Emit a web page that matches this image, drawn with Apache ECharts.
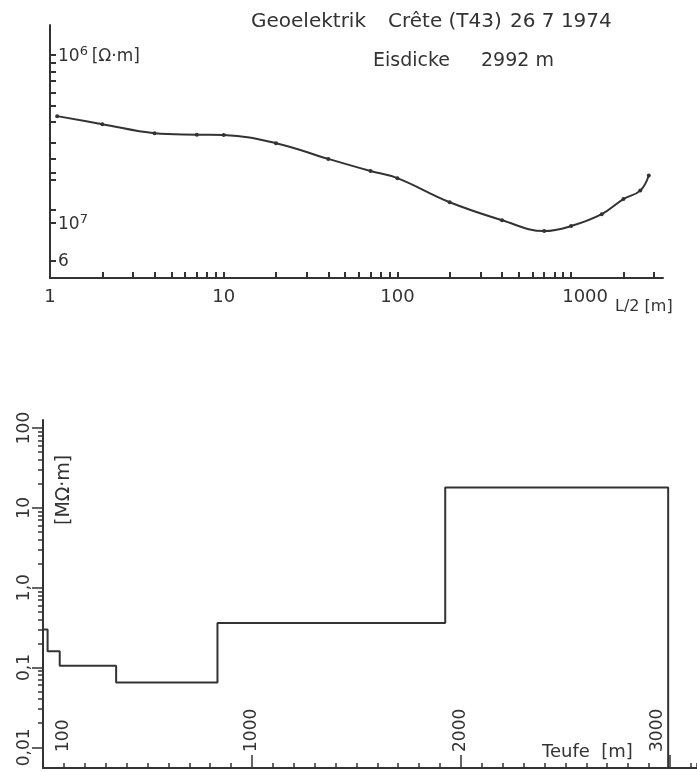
<!DOCTYPE html>
<html>
<head>
<meta charset="utf-8">
<script src="https://cdn.jsdelivr.net/npm/echarts@6/dist/echarts.min.js"></script>
<style>
  html, body { margin: 0; padding: 0; background: #fff; }
  #main { width: 697px; height: 772px; }
</style>
</head>
<body>
<div id="main"></div>
<script>
// sounding curve: half electrode spacing L/2 [m] and apparent resistivity [Ohm m]
var spacing = [1.1, 2, 4, 7, 10, 20, 40, 70, 100, 200, 400, 700, 1000, 1500, 2000, 2500, 2800];
var rhoApp = [4.33e7, 3.88e7, 3.43e7, 3.36e7, 3.34e7, 2.99e7, 2.41e7, 2.04e7, 1.85e7, 1.33e7,
  1.04e7, 8.96e6, 9.6e6, 1.13e7, 1.39e7, 1.56e7, 1.92e7];

// layer model: top of each layer [m] and resistivity [MOhm m]
var layerTop = [0, 22, 80, 350, 835, 1925];
var layerRho = [0.3, 0.16, 0.105, 0.065, 0.36, 18];
var iceThickness = 2992;

// tick labels
var spacingLabels = [1, 10, 100, 1000];
var spacingTexts = ["1", "10", "100", "{r|1000}"];
var rhoLabelValues = [6e6, 1e7, 1e8];
var rhoLabelTexts = ["{n|6}", "{n|10}{s|7}", "{n|10}{s|6} {n|[Ω·m]}"];
var depthLabels = [100, 1000, 2000, 3000];
var depthTexts = ["100", "1000", "2000", "{r|3000}"];
var layerLabelValues = [0.01, 0.1, 1, 10, 100];
var layerLabelTexts = ["0,01", "0,1", "1,0", "10", "100"];

void (function() {
  var chart = echarts.init(document.getElementById("main"));
  var ink = "#333";
  var font = "DejaVu Sans";

  var logTicks = function(lo, hi) {
    var res = [];
    for (var d = lo; d < hi; d *= 10) {
      for (var k = 1; k < 10; k++) res.push(d * k);
    }
    res.push(hi);
    return res;
  };
  var decades = function(lo, hi) {
    var res = [];
    for (var d = lo; d <= hi * 1.0001; d *= 10) res.push(d);
    return res;
  };
  var pick = function(values, texts) {
    return function(v) {
      for (var i = 0; i < values.length; i++) {
        if (Math.abs(v / values[i] - 1) < 1e-6) return texts[i];
      }
      return "";
    };
  };
  var label = function(text, left, top, size) {
    return { text: text, left: left, top: top,
      textStyle: { fontSize: size, fontWeight: "normal", color: ink, fontFamily: font } };
  };

  var curve = spacing.map(function(l, i) { return [l, rhoApp[i]]; });
  var yMinB = 0.0055;
  var steps = layerTop.map(function(t, i) { return [t, layerRho[i]]; });
  steps.push([iceThickness, yMinB]);

  var option = {
    backgroundColor: "#fff",
    animation: false,
    textStyle: { fontFamily: font, color: ink },
    title: [
      label("Geoelektrik", 246, 7, 20),
      label("Crête (T43)", 383, 7, 20),
      label("26 7 1974", 505, 7, 20),
      label("Eisdicke", 368, 47, 19),
      label("2992 m", 476, 47, 19),
      label("L/2 [m]", 610, 294, 16),
      label("Teufe  [m]", 537, 738, 18)
    ],
    graphic: [
      { type: "text", x: 55, y: 525, rotation: Math.PI / 2,
        style: { text: "[MΩ·m]", fontSize: 19, fontFamily: font, fill: ink } }
    ],
    grid: [
      { left: 50, top: 25, right: 34, bottom: 494, outerBoundsMode: "none" },
      { left: 43, top: 420, right: 0, bottom: 4, outerBoundsMode: "none" }
    ],
    xAxis: [
      {
        type: "log", gridIndex: 0, min: 1, max: 3380,
        axisLine: { lineStyle: { color: ink, width: 2 } },
        axisTick: { inside: true, length: 6, lineStyle: { color: ink, width: 2 },
          customValues: logTicks(1, 1000).concat([2000, 3000]) },
        axisLabel: { customValues: spacingLabels, fontSize: 18, color: ink, margin: 10,
          formatter: pick(spacingLabels, spacingTexts),
          rich: { r: { fontSize: 18, color: ink, fontFamily: font, padding: [0, 0, 0, 28] } } },
        splitLine: { show: false }
      },
      {
        type: "value", gridIndex: 1, min: 0, max: 3130, interval: 100, position: "bottom",
        axisLine: { lineStyle: { color: ink, width: 2 } },
        axisTick: { inside: true, length: 5, lineStyle: { color: ink, width: 1.5 } },
        axisLabel: { customValues: depthLabels, inside: true, rotate: 90, fontSize: 17,
          color: ink, margin: 16, verticalAlign: "middle",
          formatter: pick(depthLabels, depthTexts),
          rich: { r: { fontSize: 17, color: ink, fontFamily: font, padding: [0, 0, 24, 0] } } },
        splitLine: { show: false }
      },
      {
        type: "value", gridIndex: 1, min: 0, max: 3130, position: "bottom",
        axisLine: { show: false },
        axisTick: { inside: true, length: 13, lineStyle: { color: ink, width: 1.5 },
          customValues: [1000, 2000, 3000] },
        axisLabel: { show: false },
        splitLine: { show: false }
      }
    ],
    yAxis: [
      {
        type: "log", gridIndex: 0, min: 4.71e6, max: 1.51e8,
        axisLine: { lineStyle: { color: ink, width: 2 } },
        axisTick: { inside: true, length: 6, lineStyle: { color: ink, width: 2 },
          customValues: logTicks(6e6, 1e7).slice(0, 4).concat(logTicks(1e7, 1e8)) },
        axisLabel: {
          customValues: rhoLabelValues, inside: true, margin: 8, color: ink,
          formatter: pick(rhoLabelValues, rhoLabelTexts),
          rich: {
            n: { fontSize: 17, color: ink, fontFamily: font, lineHeight: 20, verticalAlign: "bottom" },
            s: { fontSize: 13, color: ink, fontFamily: font, lineHeight: 20, verticalAlign: "top" }
          }
        },
        splitLine: { show: false }
      },
      {
        type: "log", gridIndex: 1, min: yMinB, max: 126, position: "left",
        axisLine: { lineStyle: { color: ink, width: 2 } },
        axisTick: { length: 5, lineStyle: { color: ink, width: 1.5 },
          customValues: logTicks(0.01, 100) },
        axisLabel: { show: false },
        splitLine: { show: false }
      },
      {
        type: "log", gridIndex: 1, min: yMinB, max: 126, position: "left",
        axisLine: { show: false },
        axisTick: { length: 11, lineStyle: { color: ink, width: 1.5 },
          customValues: decades(0.01, 100) },
        axisLabel: {
          customValues: layerLabelValues, rotate: 90, fontSize: 17, color: ink, margin: 18,
          verticalAlign: "middle",
          formatter: pick(layerLabelValues, layerLabelTexts)
        },
        splitLine: { show: false }
      }
    ],
    series: [
      {
        name: "Scheinbarer Widerstand",
        type: "line", xAxisIndex: 0, yAxisIndex: 0,
        data: curve, smooth: 0.4,
        symbol: "circle", symbolSize: 4,
        lineStyle: { color: ink, width: 2 },
        itemStyle: { color: ink }
      },
      {
        name: "Schichtmodell",
        type: "line", xAxisIndex: 1, yAxisIndex: 1,
        data: steps, step: "end", showSymbol: false,
        lineStyle: { color: ink, width: 2 }
      }
    ]
  };

  chart.setOption(option);
})();
</script>
</body>
</html>
